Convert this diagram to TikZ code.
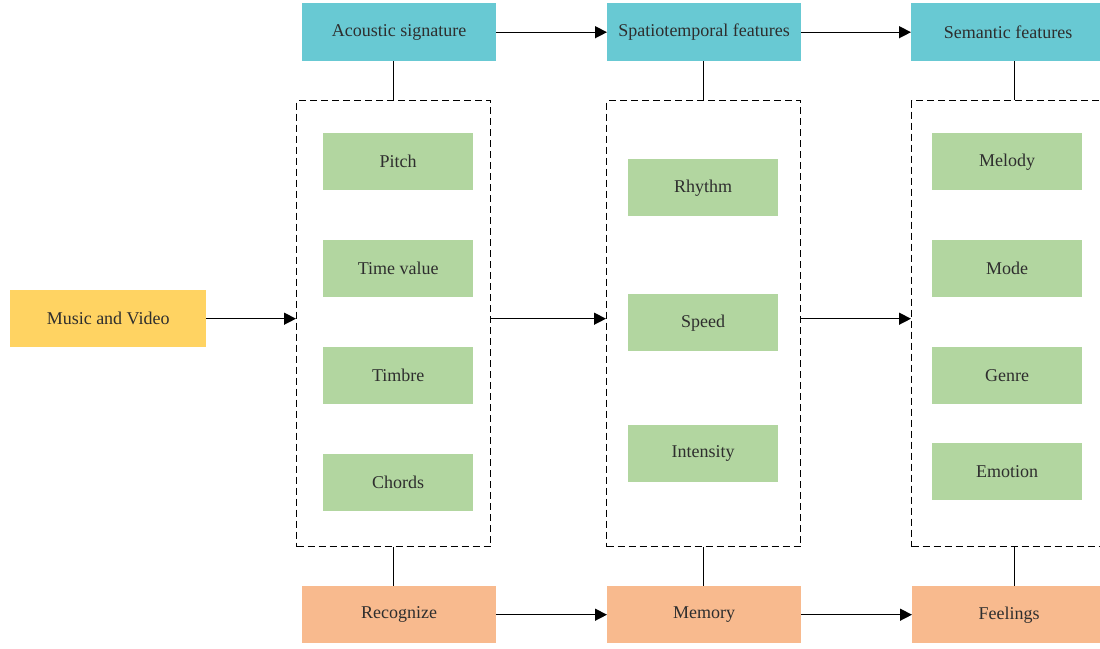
\documentclass[tikz,border=0pt]{standalone}
\usepackage{fontspec}
\setmainfont{Liberation Serif}
\usetikzlibrary{arrows.meta,positioning}
\definecolor{teal1}{HTML}{68C9D3}
\definecolor{green1}{HTML}{B2D6A0}
\definecolor{orange1}{HTML}{F8BA8E}
\definecolor{yellow1}{HTML}{FFD362}
\definecolor{txt}{HTML}{2E2E2E}
\tikzset{
  base/.style={draw=none,inner sep=0pt,text=txt,font=\fontsize{18}{21}\selectfont,anchor=north west},
  head/.style={base,fill=teal1,minimum width=194pt,minimum height=58pt},
  feat/.style={base,fill=green1,minimum width=150pt,minimum height=57pt},
  proc/.style={base,fill=orange1,minimum width=194pt,minimum height=57pt},
  src/.style={base,fill=yellow1,minimum width=196pt,minimum height=57pt},
  group/.style={draw=black,dash pattern=on 7pt off 4pt,line width=1.3pt,inner sep=0pt,anchor=north west,minimum height=446pt},
  conn/.style={line width=1.4pt,draw=black},
  arr/.style={conn,-{Triangle[length=12pt,width=12pt]}}
}
\begin{document}
\begin{tikzpicture}[x=1pt,y=-1pt]
\useasboundingbox (0,0) rectangle (1100,648);
% headers
\node[head] (h1) at (302,3) {Acoustic signature};
\node[head] (h2) at (607,3) {Spatiotemporal features};
\node[head] (h3) at (911,3) {Semantic features};
% groups
\node[group,minimum width=194pt] (g1) at (296,100) {};
\node[group,minimum width=194pt] (g2) at (606,100) {};
\node[group,minimum width=206pt] (g3) at (911,100) {};
% source
\node[src] (mv) at (10,290) {Music and Video};
% features col 1
\node[feat] (pitch) at (323,133) {Pitch};
\node[feat] (time) at (323,240) {Time value};
\node[feat] (timbre) at (323,347) {Timbre};
\node[feat] (chords) at (323,454) {Chords};
% col 2
\node[feat] (rhythm) at (628,159) {Rhythm};
\node[feat] (speed) at (628,294) {Speed};
\node[feat] (intens) at (628,425) {Intensity};
% col 3
\node[feat] (melody) at (932,133) {Melody};
\node[feat] (mode) at (932,240) {Mode};
\node[feat] (genre) at (932,347) {Genre};
\node[feat] (emotion) at (932,443) {Emotion};
% bottom
\node[proc] (rec) at (302,586) {Recognize};
\node[proc] (mem) at (607,586) {Memory};
\node[proc] (feel) at (912,586) {Feelings};
% connectors
\draw[arr] (h1.east) -- (h2.west);
\draw[arr] (h2.east) -- (h3.west);
\draw[arr] (mv.east) -- (mv.east -| g1.west);
\draw[arr] (g1.east |- mv.east) -- (g2.west |- mv.east);
\draw[arr] (g2.east |- mv.east) -- (g3.west |- mv.east);
\draw[arr] (rec.east) -- (mem.west);
\draw[arr] (mem.east) -- (feel.west);
\foreach \g/\h/\p in {g1/h1/rec,g2/h2/mem,g3/h3/feel}{
  \draw[conn] (\g.north) -- (\g.north |- \h.south);
  \draw[conn] (\g.south) -- (\g.south |- \p.north);
}
\end{tikzpicture}
\end{document}
